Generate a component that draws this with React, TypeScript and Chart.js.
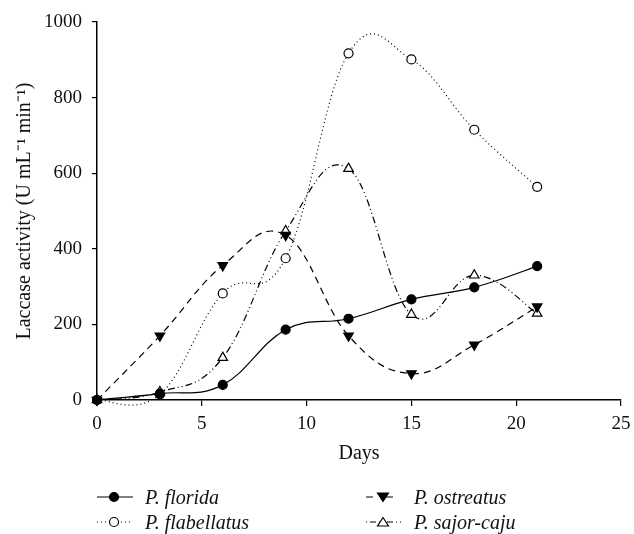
import React, { useEffect, useRef } from "react";
import { Chart, registerables } from "chart.js";

Chart.register(...registerables);

const days = [0, 3, 6, 9, 12, 15, 18, 21];
const florida = [0, 17, 40, 186, 215, 266, 298, 354];
const flabellatus = [0, 15, 282, 375, 917, 901, 715, 564];
const ostreatus = [0, 170, 356, 436, 170, 70, 146, 247];
const sajorCaju = [0, 21, 112, 447, 612, 226, 330, 229];
const seriesNames = ["P. florida", "P. flabellatus", "P. ostreatus", "P. sajor-caju"];
const xMax = 25;
const yMax = 1000;

const FONT = "'Liberation Serif', 'Times New Roman', serif";
const SMOOTH = 0.2;

function pts(values: number[]) {
  return values.map((v, i) => ({ x: days[i], y: v }));
}

// Uniform Catmull-Rom style smoothing (like spreadsheet "smoothed line"),
// applied to the control points of the library's own point elements.
const smoothPlugin = {
  id: "smoothLines",
  beforeDatasetDraw(chart: any, args: any) {
    const meta = args.meta;
    const line = meta.dataset;
    const points = meta.data;
    if (!line || !points || points.length < 2) return;
    if (typeof line.updateControlPoints === "function") line.updateControlPoints(chart.chartArea, "x");
    const n = points.length;
    for (let i = 0; i < n; i++) {
      const p = points[i];
      const prev = points[Math.max(0, i - 1)];
      const next = points[Math.min(n - 1, i + 1)];
      const dx = (next.x - prev.x) * SMOOTH;
      const dy = (next.y - prev.y) * SMOOTH;
      p.cp1x = p.x - dx;
      p.cp1y = p.y - dy;
      p.cp2x = p.x + dx;
      p.cp2y = p.y + dy;
    }
    line._pointsUpdated = true;
  },
};

function LegendItem(props: { left: number; top: number; dash: string; marker: string; filled: boolean; label: string }) {
  const { left, top, dash, marker, filled, label } = props;
  const fill = filled ? "#000" : "#fff";
  let m: React.ReactNode = null;
  if (marker === "circle") m = <circle cx={17} cy={8} r={4.5} fill={fill} stroke="#000" strokeWidth={1.2} />;
  if (marker === "down") m = <polygon points="11.5,4 22.5,4 17,12.5" fill={fill} stroke="#000" strokeWidth={1.2} />;
  if (marker === "up") m = <polygon points="17,3.5 22.5,12 11.5,12" fill={fill} stroke="#000" strokeWidth={1.2} />;
  return (
    <div style={{ position: "absolute", left, top, height: 20, display: "flex", alignItems: "center" }}>
      <svg width={36} height={16} style={{ display: "block" }}>
        <line x1={0} y1={8} x2={36} y2={8} stroke="#000" strokeWidth={1.2} strokeDasharray={dash} />
        {m}
      </svg>
      <span style={{ marginLeft: 12, fontFamily: FONT, fontStyle: "italic", fontSize: 20, color: "#111", whiteSpace: "nowrap" }}>{label}</span>
    </div>
  );
}

export default function App() {
  const ref = useRef<HTMLCanvasElement | null>(null);
  useEffect(() => {
    if (!ref.current) return;
    const common = {
      borderColor: "#000",
      borderWidth: 1.2,
      pointBorderColor: "#000",
      pointBorderWidth: 1.2,
      tension: 0.4,
      capBezierPoints: false,
      clip: false as any,
      fill: false,
    };
    const chart = new Chart(ref.current, {
      type: "line",
      data: {
        datasets: [
          { ...common, label: seriesNames[0], data: pts(florida), pointStyle: "circle", pointRadius: 4.5, pointBackgroundColor: "#000" },
          { ...common, label: seriesNames[1], data: pts(flabellatus), borderDash: [1, 3], pointStyle: "circle", pointRadius: 4.5, pointBackgroundColor: "#fff" },
          { ...common, label: seriesNames[2], data: pts(ostreatus), borderDash: [7, 5], pointStyle: "triangle", rotation: 180, pointRadius: 5.5, pointBackgroundColor: "#000" },
          { ...common, label: seriesNames[3], data: pts(sajorCaju), borderDash: [7, 3, 1, 3, 1, 3], pointStyle: "triangle", pointRadius: 5.5, pointBackgroundColor: "#fff" },
        ] as any,
      },
      plugins: [smoothPlugin as any],
      options: {
        animation: false,
        responsive: false,
        layout: { padding: { top: 22, right: 13, bottom: 68, left: 13 } },
        plugins: { legend: { display: false }, tooltip: { enabled: false } },
        scales: {
          x: {
            type: "linear",
            min: 0,
            max: xMax,
            afterFit: (s: any) => { s.height = 66; s.paddingRight = 0; s.paddingLeft = 0; },
            ticks: { stepSize: 5, color: "#111", font: { family: FONT, size: 19 }, padding: 7, maxRotation: 0, callback: (v: any) => String(v) },
            grid: { display: true, drawOnChartArea: false, drawTicks: true, tickLength: 6, color: "#000", lineWidth: 1.2 },
            border: { display: true, color: "#000", width: 1.5 },
            title: { display: true, text: "Days", color: "#111", font: { family: FONT, size: 20 }, padding: { top: 0, bottom: 0 } },
          },
          y: {
            type: "linear",
            min: 0,
            max: yMax,
            afterFit: (s: any) => { s.width = 84; },
            ticks: { stepSize: 200, color: "#111", font: { family: FONT, size: 19 }, padding: 10, callback: (v: any) => String(v) },
            grid: { display: true, drawOnChartArea: false, drawTicks: true, tickLength: 5, color: "#000", lineWidth: 1.2 },
            border: { display: true, color: "#000", width: 1.5 },
            title: { display: true, text: "Laccase activity (U mL\u207B\u00B9 min\u207B\u00B9)", color: "#111", font: { family: FONT, size: 20 }, padding: { top: 0, bottom: 0 } },
          },
        },
      },
    });
    return () => chart.destroy();
  }, []);

  return (
    <div style={{ position: "absolute", left: 0, top: 0, width: 634, height: 534, background: "#fff" }}>
      <canvas ref={ref} width={634} height={534} style={{ display: "block" }} />
      <LegendItem left={97} top={487} dash="none" marker="circle" filled={true} label={seriesNames[0]} />
      <LegendItem left={97} top={512} dash="1 3" marker="circle" filled={false} label={seriesNames[1]} />
      <LegendItem left={366} top={487} dash="7 13 0 0" marker="down" filled={true} label={seriesNames[2]} />
      <LegendItem left={366} top={512} dash="1 3 6 3 1 3" marker="up" filled={false} label={seriesNames[3]} />
    </div>
  );
}
